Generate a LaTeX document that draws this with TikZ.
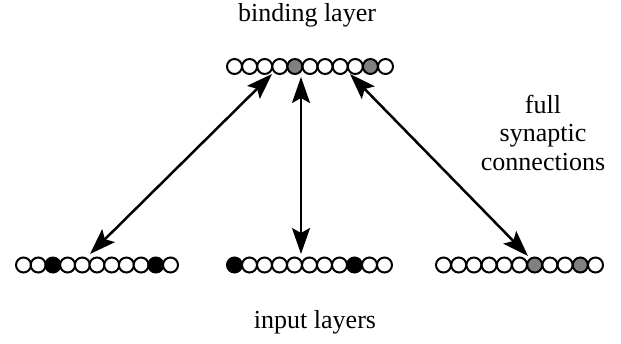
\documentclass[tikz,border=0pt]{standalone}
\usepackage{fontspec}
\setmainfont{Liberation Serif}
\usetikzlibrary{arrows.meta}
\definecolor{midgrey}{RGB}{128,128,128}
\begin{document}
\begin{tikzpicture}[x=1pt,y=-1pt,
  unit/.style={circle,draw=black,line width=2pt,minimum size=15pt,inner sep=0pt,fill=white},
  blk/.style={unit,fill=black},
  gry/.style={unit,fill=midgrey},
  conn/.style={line width=2.5pt,{Stealth[length=26pt,width=18pt,inset=5pt]}-{Stealth[length=26pt,width=18pt,inset=5pt]}},
  lbl/.style={font=\fontsize{26}{28.5}\selectfont,align=center,inner sep=0pt}]
\useasboundingbox (0,0) rectangle (621,343);
% binding layer (top)
\foreach \i in {0,...,10} {
  \pgfmathsetmacro\xx{234.5+15.1*\i}
  \ifnum\i=4 \node[gry] (t\i) at (\xx,66.5) {};
  \else\ifnum\i=9 \node[gry] (t\i) at (\xx,66.5) {};
  \else \node[unit] (t\i) at (\xx,66.5) {}; \fi\fi
}
% input layer left
\foreach \i in {0,...,10} {
  \pgfmathsetmacro\xx{23.5+14.7*\i}
  \ifnum\i=2 \node[blk] (a\i) at (\xx,265) {};
  \else\ifnum\i=9 \node[blk] (a\i) at (\xx,265) {};
  \else \node[unit] (a\i) at (\xx,265) {}; \fi\fi
}
% input layer middle
\foreach \i in {0,...,10} {
  \pgfmathsetmacro\xx{234.5+15*\i}
  \ifnum\i=0 \node[blk] (b\i) at (\xx,265) {};
  \else\ifnum\i=8 \node[blk] (b\i) at (\xx,265) {};
  \else \node[unit] (b\i) at (\xx,265) {}; \fi\fi
}
% input layer right
\foreach \i in {0,...,10} {
  \pgfmathsetmacro\xx{443.5+15.2*\i}
  \ifnum\i=6 \node[gry] (c\i) at (\xx,265) {};
  \else\ifnum\i=9 \node[gry] (c\i) at (\xx,265) {};
  \else \node[unit] (c\i) at (\xx,265) {}; \fi\fi
}
% arrow end points
\coordinate (lt) at (272,74);
\coordinate (lb) at (90,254);
\coordinate (mt) at (301,77);
\coordinate (mb) at (301,254);
\coordinate (rt) at (350,74);
\coordinate (rb) at (528,256);
\draw[conn] (lt) -- (lb);
\draw[conn] (mt) -- (mb);
\draw[conn] (rt) -- (rb);
% labels
\node[lbl,anchor=base] (bind) at (307,21) {binding layer};
\node[lbl,anchor=base] (inp) at (315,328) {input layers};
\node[lbl,anchor=base] (full) at (543,170) {full\\synaptic\\connections};
\end{tikzpicture}
\end{document}
